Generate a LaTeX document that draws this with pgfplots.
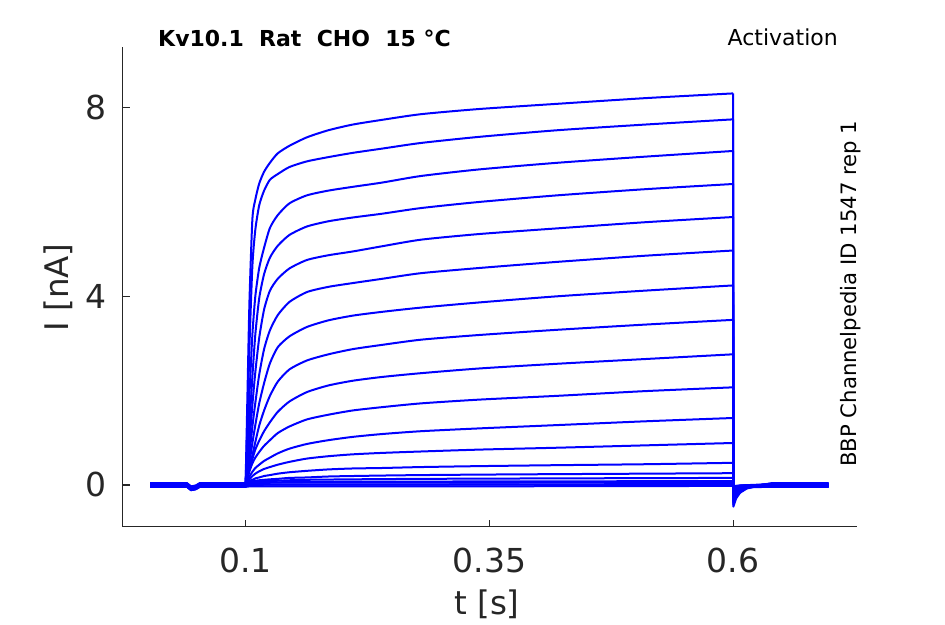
\documentclass[border=0pt]{standalone}
\usepackage{fontspec}
\setmainfont{DejaVu Sans}
\usepackage{pgfplots}
\pgfplotsset{compat=1.18}
\definecolor{axgray}{RGB}{38,38,38}
\pgfplotsset{tr/.style={color={rgb,255:red,0;green,0;blue,255}, line width=2pt, line join=round, mark=none},
  sm/.style={tr, smooth, tension=0.4}}
\begin{document}
\begin{tikzpicture}
\begin{axis}[
  at={(0pt,0pt)}, anchor=south west,
  scale only axis, width=734.3pt, height=479.8pt,
  xmin=-0.026, xmax=0.727, ymin=-0.88, ymax=9.29,
  axis lines*=left,
  axis line style={axgray, line width=1.1pt},
  tick align=inside,
  major tick length=7pt,
  tick style={axgray, line width=1.1pt},
  xtick={0.1,0.35,0.6}, xticklabels={0.1,0.35,0.6},
  ytick={0,4,8}, yticklabels={0,4,8},
  ticklabel style={font=\fontsize{33}{38}\selectfont, text=axgray, inner sep=0pt},
  xticklabel style={anchor=north, yshift=-21.5pt},
  yticklabel style={anchor=east, xshift=-15.7pt},
  clip=false,
  unbounded coords=jump,
]
% trace 1
\addplot[tr] coordinates {(0.002,0)(0.040,0)(0.044,-0.07)(0.049,-0.05)(0.053,0)(0.100,0)(0.35,nan)(0.600,8.30)(0.6002,-0.46)(0.603,-0.285)(0.607,-0.166)(0.614,-0.074)(0.625,-0.023)(0.640,0)(0.698,0)};
\addplot[sm] coordinates {(0.100,0)(0.102,1.99)(0.104,3.90)(0.107,5.64)(0.110,6.05)(0.114,6.39)(0.119,6.64)(0.125,6.83)(0.133,7.03)(0.145,7.19)(0.163,7.37)(0.185,7.52)(0.210,7.64)(0.240,7.74)(0.280,7.86)(0.340,7.97)(0.420,8.08)(0.510,8.20)(0.600,8.30)};
% trace 2
\addplot[tr] coordinates {(0.002,0.02)(0.040,0.02)(0.044,-0.05)(0.049,-0.03)(0.053,0.02)(0.100,0.02)(0.35,nan)(0.600,7.75)(0.6002,-0.42)(0.603,-0.26)(0.607,-0.151)(0.614,-0.067)(0.625,-0.021)(0.640,0.02)(0.698,0.02)};
\addplot[sm] coordinates {(0.100,0.02)(0.102,1.40)(0.104,2.95)(0.107,4.65)(0.110,5.41)(0.114,5.93)(0.119,6.24)(0.125,6.47)(0.133,6.59)(0.145,6.74)(0.163,6.86)(0.185,6.95)(0.210,7.04)(0.240,7.13)(0.280,7.25)(0.340,7.38)(0.420,7.52)(0.510,7.64)(0.600,7.75)};
% trace 3
\addplot[tr] coordinates {(0.002,-0.02)(0.040,-0.02)(0.044,-0.09)(0.049,-0.07)(0.053,-0.02)(0.100,-0.02)(0.35,nan)(0.600,7.08)(0.6002,-0.38)(0.603,-0.236)(0.607,-0.137)(0.614,-0.061)(0.625,-0.019)(0.640,-0.02)(0.698,-0.02)};
\addplot[sm] coordinates {(0.100,-0.02)(0.102,0.85)(0.104,1.91)(0.107,3.19)(0.110,4.00)(0.114,4.60)(0.119,5.03)(0.125,5.45)(0.133,5.72)(0.145,5.97)(0.163,6.14)(0.185,6.24)(0.210,6.32)(0.240,6.41)(0.280,6.55)(0.340,6.69)(0.420,6.83)(0.510,6.96)(0.600,7.08)};
% trace 4
\addplot[tr] coordinates {(0.002,0.03)(0.040,0.03)(0.044,-0.04)(0.049,-0.02)(0.053,0.03)(0.100,0.03)(0.35,nan)(0.600,6.38)(0.6002,-0.35)(0.603,-0.217)(0.607,-0.126)(0.614,-0.056)(0.625,-0.018)(0.640,0.03)(0.698,0.03)};
\addplot[sm] coordinates {(0.100,0.03)(0.102,0.57)(0.104,1.28)(0.107,2.30)(0.110,3.19)(0.114,3.96)(0.119,4.47)(0.125,4.82)(0.133,5.07)(0.145,5.30)(0.163,5.48)(0.185,5.59)(0.210,5.67)(0.240,5.75)(0.280,5.87)(0.340,6.00)(0.420,6.14)(0.510,6.27)(0.600,6.38)};
% trace 5
\addplot[tr] coordinates {(0.002,-0.03)(0.040,-0.03)(0.044,-0.10)(0.049,-0.08)(0.053,-0.03)(0.100,-0.03)(0.35,nan)(0.600,5.68)(0.6002,-0.32)(0.603,-0.198)(0.607,-0.115)(0.614,-0.051)(0.625,-0.016)(0.640,-0.03)(0.698,-0.03)};
\addplot[sm] coordinates {(0.100,-0.03)(0.102,0.40)(0.104,0.91)(0.107,1.70)(0.110,2.39)(0.114,3.12)(0.119,3.72)(0.125,4.12)(0.133,4.37)(0.145,4.59)(0.163,4.77)(0.185,4.87)(0.210,4.95)(0.240,5.06)(0.280,5.20)(0.340,5.32)(0.420,5.44)(0.510,5.57)(0.600,5.68)};
% trace 6
\addplot[tr] coordinates {(0.002,0.01)(0.040,0.01)(0.044,-0.06)(0.049,-0.04)(0.053,0.01)(0.100,0.01)(0.35,nan)(0.600,4.97)(0.6002,-0.29)(0.603,-0.18)(0.607,-0.104)(0.614,-0.046)(0.625,-0.015)(0.640,0.01)(0.698,0.01)};
\addplot[sm] coordinates {(0.100,0.01)(0.102,0.30)(0.104,0.65)(0.107,1.24)(0.110,1.74)(0.114,2.34)(0.119,2.88)(0.125,3.28)(0.133,3.60)(0.145,3.88)(0.163,4.09)(0.185,4.20)(0.210,4.28)(0.240,4.37)(0.280,4.49)(0.340,4.60)(0.420,4.73)(0.510,4.86)(0.600,4.97)};
% trace 7
\addplot[tr] coordinates {(0.002,-0.01)(0.040,-0.01)(0.044,-0.08)(0.049,-0.06)(0.053,-0.01)(0.100,-0.01)(0.35,nan)(0.600,4.23)(0.6002,-0.26)(0.603,-0.161)(0.607,-0.094)(0.614,-0.042)(0.625,-0.013)(0.640,-0.01)(0.698,-0.01)};
\addplot[sm] coordinates {(0.100,-0.01)(0.102,0.21)(0.104,0.47)(0.107,0.89)(0.110,1.27)(0.114,1.73)(0.119,2.16)(0.125,2.58)(0.133,2.92)(0.145,3.15)(0.163,3.35)(0.185,3.49)(0.210,3.59)(0.240,3.67)(0.280,3.76)(0.340,3.87)(0.420,4.00)(0.510,4.12)(0.600,4.23)};
% trace 8
\addplot[tr] coordinates {(0.002,0.04)(0.040,0.04)(0.044,-0.03)(0.049,-0.01)(0.053,0.04)(0.100,0.04)(0.35,nan)(0.600,3.50)(0.6002,-0.23)(0.603,-0.143)(0.607,-0.083)(0.614,-0.037)(0.625,-0.012)(0.640,0.04)(0.698,0.04)};
\addplot[sm] coordinates {(0.100,0.04)(0.102,0.18)(0.104,0.35)(0.107,0.63)(0.110,0.91)(0.114,1.26)(0.119,1.58)(0.125,1.89)(0.133,2.19)(0.145,2.45)(0.163,2.64)(0.185,2.77)(0.210,2.88)(0.240,2.97)(0.280,3.08)(0.340,3.18)(0.420,3.29)(0.510,3.40)(0.600,3.50)};
% trace 9
\addplot[tr] coordinates {(0.002,-0.04)(0.040,-0.04)(0.044,-0.11)(0.049,-0.09)(0.053,-0.04)(0.100,-0.04)(0.35,nan)(0.600,2.77)(0.6002,-0.20)(0.603,-0.124)(0.607,-0.072)(0.614,-0.032)(0.625,-0.01)(0.640,-0.04)(0.698,-0.04)};
\addplot[sm] coordinates {(0.100,-0.04)(0.102,0.17)(0.104,0.33)(0.107,0.55)(0.110,0.75)(0.114,0.94)(0.119,1.14)(0.125,1.33)(0.133,1.55)(0.145,1.77)(0.163,1.97)(0.185,2.11)(0.210,2.21)(0.240,2.29)(0.280,2.37)(0.340,2.47)(0.420,2.57)(0.510,2.67)(0.600,2.77)};
% trace 10
\addplot[tr] coordinates {(0.002,0.02)(0.040,0.02)(0.044,-0.05)(0.049,-0.03)(0.053,0.02)(0.100,0.02)(0.35,nan)(0.600,2.07)(0.6002,-0.17)(0.603,-0.105)(0.607,-0.061)(0.614,-0.027)(0.625,-0.009)(0.640,0.02)(0.698,0.02)};
\addplot[sm] coordinates {(0.100,0.02)(0.102,0.14)(0.104,0.29)(0.107,0.46)(0.110,0.58)(0.114,0.70)(0.119,0.83)(0.125,0.95)(0.133,1.10)(0.145,1.24)(0.163,1.39)(0.185,1.49)(0.210,1.58)(0.240,1.65)(0.280,1.73)(0.340,1.81)(0.420,1.89)(0.510,1.99)(0.600,2.07)};
% trace 11
\addplot[tr] coordinates {(0.002,-0.02)(0.040,-0.02)(0.044,-0.09)(0.049,-0.07)(0.053,-0.02)(0.100,-0.02)(0.35,nan)(0.600,1.42)(0.6002,-0.14)(0.603,-0.087)(0.607,-0.05)(0.614,-0.022)(0.625,-0.007)(0.640,-0.02)(0.698,-0.02)};
\addplot[sm] coordinates {(0.100,-0.02)(0.102,0.10)(0.104,0.18)(0.107,0.28)(0.110,0.36)(0.114,0.43)(0.119,0.51)(0.125,0.58)(0.133,0.67)(0.145,0.77)(0.163,0.87)(0.185,0.95)(0.210,1.02)(0.240,1.08)(0.280,1.14)(0.340,1.20)(0.420,1.27)(0.510,1.35)(0.600,1.42)};
% trace 12
\addplot[tr] coordinates {(0.002,0)(0.040,0)(0.044,-0.07)(0.049,-0.05)(0.053,0)(0.100,0)(0.35,nan)(0.600,0.89)(0.6002,-0.11)(0.603,-0.068)(0.607,-0.04)(0.614,-0.018)(0.625,-0.006)(0.640,0)(0.698,0)};
\addplot[sm] coordinates {(0.100,0)(0.102,0.07)(0.104,0.12)(0.107,0.19)(0.110,0.24)(0.114,0.29)(0.119,0.34)(0.125,0.38)(0.133,0.43)(0.145,0.49)(0.163,0.56)(0.185,0.61)(0.210,0.65)(0.240,0.68)(0.280,0.71)(0.340,0.75)(0.420,0.79)(0.510,0.84)(0.600,0.89)};
% trace 13
\addplot[tr] coordinates {(0.002,0.03)(0.040,0.03)(0.044,-0.04)(0.049,-0.02)(0.053,0.03)(0.100,0.03)(0.35,nan)(0.600,0.47)(0.6002,-0.08)(0.603,-0.05)(0.607,-0.029)(0.614,-0.013)(0.625,-0.004)(0.640,0.03)(0.698,0.03)};
\addplot[sm] coordinates {(0.100,0.03)(0.102,0.05)(0.104,0.08)(0.107,0.11)(0.110,0.14)(0.114,0.16)(0.119,0.19)(0.125,0.21)(0.133,0.24)(0.145,0.27)(0.163,0.30)(0.185,0.33)(0.210,0.35)(0.240,0.36)(0.280,0.38)(0.340,0.40)(0.420,0.42)(0.510,0.44)(0.600,0.47)};
% trace 14
\addplot[tr] coordinates {(0.002,-0.03)(0.040,-0.03)(0.044,-0.10)(0.049,-0.08)(0.053,-0.03)(0.100,-0.03)(0.35,nan)(0.600,0.25)(0.6002,-0.06)(0.603,-0.037)(0.607,-0.022)(0.614,-0.01)(0.625,-0.003)(0.640,-0.03)(0.698,-0.03)};
\addplot[sm] coordinates {(0.100,-0.03)(0.102,0.04)(0.104,0.06)(0.107,0.08)(0.110,0.09)(0.114,0.10)(0.119,0.11)(0.125,0.12)(0.133,0.13)(0.145,0.15)(0.163,0.16)(0.185,0.18)(0.210,0.19)(0.240,0.20)(0.280,0.21)(0.340,0.22)(0.420,0.23)(0.510,0.24)(0.600,0.25)};
% trace 15
\addplot[tr] coordinates {(0.002,0.01)(0.040,0.01)(0.044,-0.06)(0.049,-0.04)(0.053,0.01)(0.100,0.01)(0.35,nan)(0.600,0.15)(0.6002,-0.05)(0.603,-0.031)(0.607,-0.018)(0.614,-0.008)(0.625,-0.003)(0.640,0.01)(0.698,0.01)};
\addplot[sm] coordinates {(0.100,0.01)(0.102,0.03)(0.104,0.05)(0.107,0.06)(0.110,0.07)(0.119,0.08)(0.133,0.09)(0.145,0.10)(0.163,0.11)(0.210,0.12)(0.280,0.13)(0.420,0.14)(0.600,0.15)};
% trace 16
\addplot[tr] coordinates {(0.002,-0.01)(0.040,-0.01)(0.044,-0.08)(0.049,-0.06)(0.053,-0.01)(0.100,-0.01)(0.35,nan)(0.600,0.08)(0.6002,-0.04)(0.603,-0.025)(0.607,-0.014)(0.614,-0.006)(0.640,-0.01)(0.698,-0.01)};
\addplot[sm] coordinates {(0.100,-0.01)(0.102,0.02)(0.104,0.03)(0.107,0.04)(0.114,0.05)(0.145,0.06)(0.210,0.07)(0.510,0.08)(0.600,0.08)};
% trace 17
\addplot[tr] coordinates {(0.002,0.02)(0.040,0.02)(0.044,-0.05)(0.049,-0.03)(0.053,0.02)(0.100,0.02)(0.104,0.04)(0.133,0.05)(0.300,0.05)(0.600,0.06)(0.6002,-0.03)(0.607,-0.01)(0.640,0.02)(0.698,0.02)};
% trace 18
\addplot[tr] coordinates {(0.002,-0.02)(0.040,-0.02)(0.044,-0.09)(0.049,-0.07)(0.053,-0.02)(0.100,-0.02)(0.104,0.00)(0.133,0.01)(0.300,0.01)(0.600,0.02)(0.6002,-0.04)(0.607,-0.03)(0.640,-0.02)(0.698,-0.02)};
% trace 19
\addplot[tr] coordinates {(0.002,0)(0.040,0)(0.044,-0.07)(0.049,-0.05)(0.053,0)(0.100,0)(0.104,0.01)(0.300,0.01)(0.600,0.01)(0.6002,-0.02)(0.640,0)(0.698,0)};
% trace 20
\addplot[tr] coordinates {(0.002,-0.04)(0.040,-0.04)(0.044,-0.11)(0.049,-0.09)(0.053,-0.04)(0.100,-0.04)(0.104,-0.03)(0.300,-0.03)(0.600,-0.02)(0.6002,-0.05)(0.640,-0.04)(0.698,-0.04)};
\end{axis}
\node[anchor=base west, inner sep=0pt, font=\bfseries\fontsize{22}{26}\selectfont] at (35.3pt,479.8pt) {Kv10.1\ \ Rat\ \ CHO\ \ 15\ °C};
\node[anchor=base east, inner sep=0pt, font=\fontsize{22}{26}\selectfont] at (715.3pt,480.5pt) {Activation};
\node[rotate=90, anchor=base west, inner sep=0pt, font=\fontsize{21.2}{25}\selectfont] at (734pt,59.5pt) {BBP Channelpedia ID 1547 rep 1};
\node[anchor=base, inner sep=0pt, font=\fontsize{32.5}{37}\selectfont, text=axgray] at (364.3pt,-88.3pt) {t [s]};
\node[rotate=90, anchor=base, inner sep=0pt, font=\fontsize{32.5}{37}\selectfont, text=axgray] at (-53.9pt,239pt) {I [nA]};
\pgfresetboundingbox
\path (-122.7pt,-97.5pt) rectangle (822.3pt,526.5pt);
\end{tikzpicture}
\end{document}
